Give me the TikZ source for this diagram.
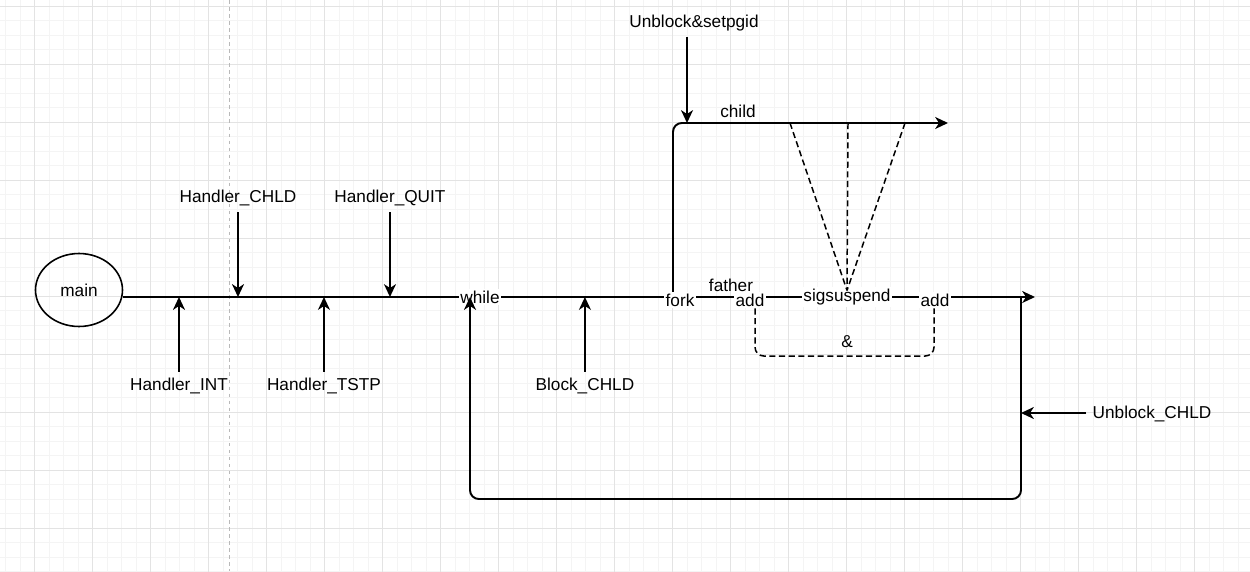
\documentclass[tikz,border=0pt]{standalone}
\usepackage{fontspec}
\setmainfont{Liberation Sans}
\usetikzlibrary{shapes.geometric, arrows.meta, positioning}
\tikzstyle{txt} = [font=\fontsize{9.8}{11.5}\selectfont, text=black]
\tikzstyle{online} = [txt, fill=white, inner sep=1pt]
\tikzstyle{start} = [ellipse, draw=black, line width=0.9pt, inner sep=0pt, minimum width=1.74cm, minimum height=1.46cm, txt]
\tikzstyle{arrow} = [line width=1.1pt, -{Stealth[length=7.3pt, width=6.8pt, inset=2.2pt]}]
\tikzstyle{dashline} = [line width=0.85pt, dash pattern=on 3.5pt off 2pt]

\begin{document}
\begin{tikzpicture}[x=0.02cm, y=-0.02cm]

\useasboundingbox (0,0) rectangle (1250,571);

% Background grid and page break
\draw[gray!9, line width=0.5pt, step=0.29cm, shift={(5.7,6.3)}] (-10,590) grid (1260,-20);
\draw[gray!22, line width=0.5pt, step=1.16cm, shift={(34.7,6.3)}] (-40,590) grid (1260,-20);
\draw[gray!55, line width=0.4pt, dash pattern=on 2pt off 2pt] (229.5,0) -- (229.5,571);

% Start and main line
\node (mainNode) [start] at (79,290) {main};
\coordinate (spineStart) at (122,297);
\coordinate (spineEnd) at (1035,297);
\draw [arrow] (mainNode.east |- spineStart) -- (spineEnd);

% Child branch
\coordinate (forkUp) at (673,297);
\coordinate (childEnd) at (948,123);
\draw [arrow, rounded corners=5pt] (forkUp) |- (childEnd);

% Labels on the main line
\node (whileLOOP) [online] at (480,297) {while};
\node (forkAT) [online] at (680,300) {fork};
\node (addFIRST) [online] at (750,300) {add};
\node (sigSUS) [online] at (847,297) {sigsuspend};
\node (addSECOND) [online] at (935,300) {add};
\node (fatherLBL) [txt] at (731,285) {father};
\node (childLBL) [txt] at (738,111) {child};

% Loop back to while
\coordinate (loopTop) at (1021,297);
\coordinate (loopBottom) at (470,499);
\coordinate (whileIn) at (470,297);
\draw [arrow, rounded corners=5pt] (loopTop) |- (loopBottom) -- (whileIn);

% Handlers below the line
\node (handlerINT) [txt] at (179,386) {Handler\_INT};
\node (handlerTSTP) [txt, right of=handlerINT, node distance=2.9cm] {Handler\_TSTP};
\node (blockCHLD) [txt, right of=handlerTSTP, node distance=5.22cm] {Block\_CHLD};

% Handlers above the line
\node (handlerCHLD) [txt] at (238,198) {Handler\_CHLD};
\node (handlerQUIT) [txt, right of=handlerCHLD, node distance=3.04cm] {Handler\_QUIT};

% Unblocking
\node (unblockSET) [txt] at (694,23) {Unblock\&setpgid};
\node (unblockCHLD) [txt] at (1152,414) {Unblock\_CHLD};
\coordinate (childIn) at (687,123);
\coordinate (loopIn) at (1021,413);

% Arrows
\draw [arrow] (handlerINT.north) -- (handlerINT.north |- spineStart);
\draw [arrow] (handlerTSTP.north) -- (handlerTSTP.north |- spineStart);
\draw [arrow] (blockCHLD.north) -- (blockCHLD.north |- spineStart);
\draw [arrow] (handlerCHLD.south) -- (handlerCHLD.south |- spineStart);
\draw [arrow] (handlerQUIT.south) -- (handlerQUIT.south |- spineStart);
\draw [arrow] (unblockSET.south -| childIn) -- (childIn);
\draw [arrow] (unblockCHLD.west |- loopIn) -- (loopIn);

% sigsuspend fan
\coordinate (fanL) at (790,123);
\coordinate (fanM) at (848,123);
\coordinate (fanR) at (905,123);
\draw [dashline] (fanL) -- ([yshift=-2pt]sigSUS.north);
\draw [dashline] (fanM) -- ([yshift=-2pt]sigSUS.north);
\draw [dashline] (fanR) -- ([yshift=-2pt]sigSUS.north);

% add & add
\coordinate (andLeft) at (755,356);
\coordinate (andRight) at (934,356);
\draw [dashline, rounded corners=5pt] (addFIRST.south -| andLeft) -- (andLeft) -- (andRight) -- (addSECOND.south -| andRight);
\node (andLBL) [txt] at (847,342) {\&};

\end{tikzpicture}
\end{document}
